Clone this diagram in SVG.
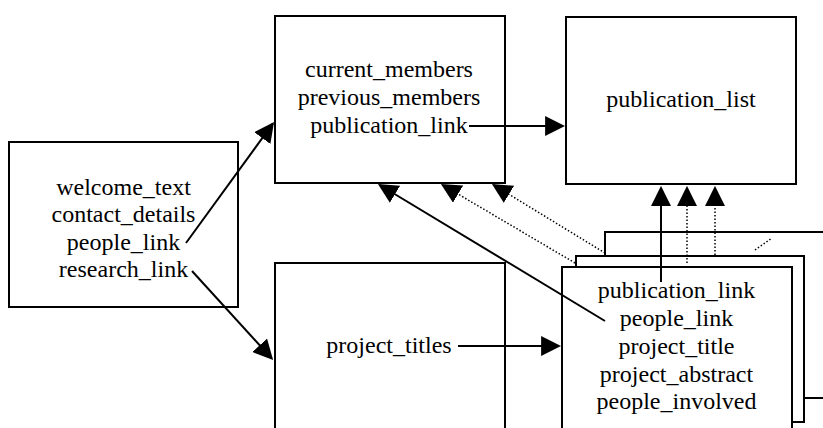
<svg xmlns="http://www.w3.org/2000/svg" width="823" height="428" viewBox="0 0 823 428">
<style>
  .box { fill: #ffffff; stroke: #000000; stroke-width: 2; }
  .t { font-family: "Liberation Serif", "Times New Roman", serif; font-size: 24px; fill: #000000; text-anchor: middle; }
  .solid { stroke: #000000; stroke-width: 2; fill: none; }
  .dot { stroke: #000000; stroke-width: 1.5; stroke-dasharray: 1.5 2; fill: none; }
  .head { marker-end: url(#arrow); }
</style>
<defs>
  <marker id="arrow" markerUnits="userSpaceOnUse" markerWidth="20" markerHeight="20" viewBox="0 0 19 19" refX="17" refY="9.5" orient="auto">
    <path d="M0,0 L19,9.5 L0,19 z" fill="#000000"/>
  </marker>
</defs>
<rect width="823" height="428" fill="#ffffff"/>

<g id="home">
  <rect class="box" x="9" y="142" width="229" height="165"/>
  <text class="t" x="123.5" y="194.5">welcome_text</text>
  <text class="t" x="123.5" y="222">contact_details</text>
  <text class="t" x="123.5" y="249.5">people_link</text>
  <text class="t" x="123.5" y="277">research_link</text>
</g>

<g id="people">
  <rect class="box" x="275" y="16" width="230" height="167"/>
  <text class="t" x="389" y="77">current_members</text>
  <text class="t" x="389" y="105">previous_members</text>
  <text class="t" x="389" y="133">publication_link</text>
</g>

<g id="publications">
  <rect class="box" x="566" y="17" width="230" height="167"/>
  <text class="t" x="681" y="106.5">publication_list</text>
</g>

<g id="research">
  <rect class="box" x="275" y="263" width="230" height="180"/>
  <text class="t" x="389" y="353">project_titles</text>
</g>

<g id="project3">
  <rect class="box" x="605" y="232" width="235" height="166"/>
</g>

<g id="project2">
  <rect class="box" x="576" y="256" width="228" height="166"/>
</g>

<g id="project1">
  <rect class="box" x="562" y="267" width="230" height="180"/>
  <text class="t" x="676.5" y="298">publication_link</text>
  <text class="t" x="676.5" y="326">people_link</text>
  <text class="t" x="676.5" y="354">project_title</text>
  <text class="t" x="676.5" y="381.5">project_abstract</text>
  <text class="t" x="676.5" y="409">people_involved</text>
</g>

<g id="connectors">
  <line class="solid head" x1="186" y1="243" x2="272.8" y2="123.6"/>
  <line class="solid head" x1="192" y1="271" x2="271.7" y2="358.5"/>
  <line class="solid head" x1="469" y1="126" x2="563" y2="126"/>
  <line class="solid head" x1="458" y1="346" x2="559" y2="346"/>
  <line class="solid head" x1="661" y1="282" x2="661" y2="188"/>
  <line class="dot head" x1="687" y1="263" x2="687" y2="188"/>
  <line class="dot head" x1="715" y1="255" x2="715" y2="188"/>
  <line class="solid head" x1="605" y1="321" x2="379.7" y2="185"/>
  <line class="dot head" x1="575" y1="263" x2="442.7" y2="185"/>
  <line class="dot head" x1="605" y1="253" x2="493.7" y2="185"/>
  <line class="dot" x1="755" y1="250" x2="772" y2="238"/>
</g>
</svg>
